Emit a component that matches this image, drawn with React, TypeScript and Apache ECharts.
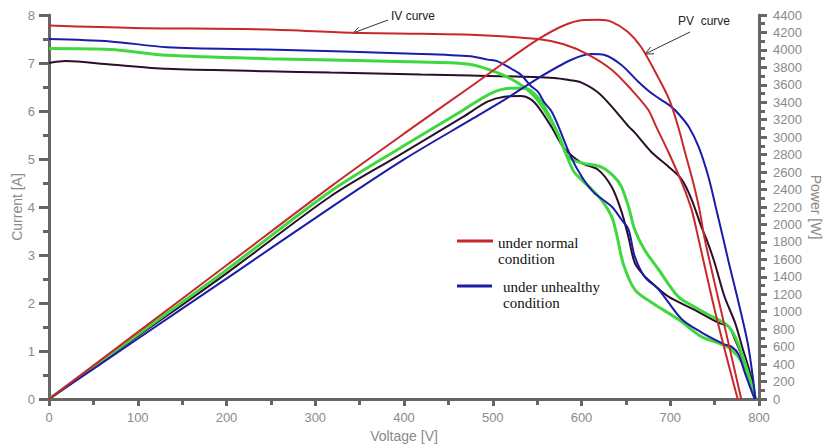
import React, { useEffect, useRef } from "react";
import * as echarts from "echarts";

// [Voltage V, Current A]
const redIV = [[0,7.78],[95,7.73],[246,7.70],[343,7.63],[419,7.61],[475,7.59],[551,7.50],[580,7.39],[607,7.18],[634,6.86],[656,6.45],[675,6.03],[684,5.68],[698,5.14],[713,4.51],[724,3.95],[732,3.32],[752,1.71],[776,0]];
const blueIV = [[0,7.50],[69,7.45],[133,7.33],[246,7.28],[419,7.19],[475,7.14],[494,7.07],[505,7.04],[521,6.88],[532,6.75],[543,6.52],[551,6.40],[558,6.18],[566,6.0],[574,5.68],[588,5.05],[600,4.64],[614,4.30],[634,4.01],[645,3.74],[653,3.53],[660,2.97],[671,2.55],[687,2.28],[713,1.66],[735,1.39],[761,1.14],[769,1.09],[777,0.93],[784,0.55],[795,0]];
const greenIV = [[0,7.30],[69,7.28],[133,7.16],[246,7.09],[419,7.02],[475,6.97],[505,6.80],[528,6.59],[543,6.38],[558,6.03],[573,5.55],[585,4.99],[592,4.72],[608,4.43],[622,4.16],[634,3.80],[640,3.40],[647,2.82],[660,2.28],[679,2.01],[709,1.66],[735,1.30],[758,1.14],[769,1.03],[781,0.76],[792,0.26],[796,0]];
const darkIV = [[0,7.00],[19,7.04],[69,6.97],[133,6.88],[246,6.83],[317,6.80],[419,6.76],[475,6.74],[569,6.69],[588,6.64],[600,6.59],[619,6.38],[637,6.03],[653,5.68],[660,5.55],[679,5.14],[698,4.84],[713,4.57],[724,4.16],[735,3.59],[741,3.32],[750,2.84],[761,2.14],[773,1.59],[781,1.09],[792,0.41],[796,0]];

// [Voltage V, Power W]
const redPV = [[0,0],[100,766],[200,1532],[317,2431],[400,3040],[475,3578],[517,3884],[551,4121],[580,4280],[603,4342],[619,4345],[634,4322],[652,4208],[667,4036],[686,3693],[699,3427],[709,3117],[718,2775],[726,2476],[733,2167],[739,1825],[758,978],[780,0]];
const bluePV = [[0,0],[100,690],[200,1380],[317,2190],[400,2745],[475,3198],[513,3427],[551,3675],[588,3884],[611,3953],[626,3941],[645,3827],[664,3636],[679,3503],[693,3407],[701,3350],[710,3260],[721,3117],[732,2889],[743,2546],[752,2168],[760,1825],[766,1561],[777,1104],[788,601],[796,0]];
const greenPV = [[0,0],[100,740],[200,1480],[317,2377],[392,2854],[467,3312],[498,3503],[521,3560],[535,3560],[546,3506],[558,3350],[573,3048],[585,2774],[600,2705],[622,2660],[637,2546],[645,2431],[653,2202],[660,1939],[671,1710],[687,1481],[709,1173],[727,1058],[747,944],[758,887],[766,829],[773,715],[784,418],[796,0]];
const darkPV = [[0,0],[100,720],[200,1440],[317,2320],[392,2778],[467,3235],[494,3407],[513,3464],[532,3472],[543,3434],[551,3350],[566,3121],[580,2880],[600,2705],[619,2625],[634,2431],[645,2150],[653,1850],[660,1560],[670,1420],[679,1333],[698,1173],[727,1024],[754,875],[766,829],[773,681],[781,486],[792,189],[796,0]];

const xTicks = { min: 0, max: 800, interval: 100 };
const iTicks = { min: 0, max: 8, interval: 1 };
const pTicks = { min: 0, max: 4400, interval: 200 };

const RED = "#c8282c";
const BLUE = "#1c1ca8";
const GREEN = "#3fd83f";
const DARK = "#2b0e2b";

const axisGray = "#666666";
const labelGray = "#8a8a8a";
const sans = "Arial, 'Liberation Sans', sans-serif";
const serif = "'Liberation Serif', 'Times New Roman', serif";

function line(name: string, data: number[][], color: string, yAxisIndex: number, width = 2) {
  return {
    name,
    type: "line",
    data,
    yAxisIndex,
    showSymbol: false,
    symbol: "none",
    smooth: 0.3,
    lineStyle: { color, width },
    itemStyle: { color },
    z: 3,
  };
}

export default function App() {
  const ref = useRef<HTMLDivElement>(null);
  useEffect(() => {
    if (!ref.current) return;
    const chart = echarts.init(ref.current, null, { renderer: "svg" });
    const tickStyle = { color: axisGray, width: 3 };
    chart.setOption({
      animation: false,
      backgroundColor: "#ffffff",
      grid: { left: 49, right: 66, top: 15, bottom: 46, containLabel: false, outerBoundsMode: "none" },
      xAxis: {
        type: "value",
        ...xTicks,
        name: "Voltage [V]",
        nameLocation: "middle",
        nameGap: 30,
        nameMoveOverlap: false,
        nameTextStyle: { color: labelGray, fontSize: 14, fontFamily: sans },
        axisLine: { show: true, lineStyle: tickStyle },
        axisTick: { show: true, length: 7, lineStyle: tickStyle },
        minorTick: { show: true, splitNumber: 2, length: 6, lineStyle: tickStyle },
        splitLine: { show: false },
        axisLabel: { color: labelGray, fontSize: 13, margin: 12, fontFamily: sans },
      },
      yAxis: [
        {
          type: "value",
          position: "left",
          ...iTicks,
          name: "Current [A]",
          nameLocation: "middle",
          nameRotate: 90,
          nameGap: 25,
          nameMoveOverlap: false,
          nameTextStyle: { color: labelGray, fontSize: 14, fontFamily: sans },
          axisLine: { show: true, lineStyle: tickStyle },
          axisTick: { show: true, length: 10, lineStyle: tickStyle },
          minorTick: { show: true, splitNumber: 2, length: 6, lineStyle: tickStyle },
          splitLine: { show: false },
          axisLabel: { color: labelGray, fontSize: 13, margin: 14, fontFamily: sans },
        },
        {
          type: "value",
          position: "right",
          ...pTicks,
          name: "Power [W]",
          nameLocation: "middle",
          nameRotate: -90,
          nameGap: 50,
          nameMoveOverlap: false,
          nameTextStyle: { color: labelGray, fontSize: 14, fontFamily: sans },
          axisLine: { show: true, lineStyle: tickStyle },
          axisTick: { show: true, length: 8, lineStyle: tickStyle },
          minorTick: { show: true, splitNumber: 2, length: 6, lineStyle: tickStyle },
          splitLine: { show: false },
          axisLabel: { color: labelGray, fontSize: 13, margin: 14, fontFamily: sans, formatter: (v: number) => String(v) },
        },
      ],
      series: [
        line("Dark IV", darkIV, DARK, 0),
        line("Dark PV", darkPV, DARK, 1),
        line("Green IV", greenIV, GREEN, 0, 3),
        line("Green PV", greenPV, GREEN, 1, 3),
        line("Blue IV", blueIV, BLUE, 0),
        line("Blue PV", bluePV, BLUE, 1),
        line("under normal condition", redIV, RED, 0),
        line("Red PV", redPV, RED, 1),
      ],
      graphic: [
        { type: "line", shape: { x1: 457, y1: 241, x2: 493, y2: 241 }, style: { stroke: RED, lineWidth: 3 } },
        { type: "text", x: 498, y: 235, style: { text: "under normal\ncondition", fill: "#111", font: `15px ${serif}`, lineHeight: 16 } },
        { type: "line", shape: { x1: 457, y1: 286, x2: 492, y2: 286 }, style: { stroke: BLUE, lineWidth: 3 } },
        { type: "text", x: 503, y: 279, style: { text: "under unhealthy\ncondition", fill: "#111", font: `15px ${serif}`, lineHeight: 16 } },
        { type: "text", x: 391, y: 10, style: { text: "IV curve", fill: "#222", font: `12px ${sans}` } },
        { type: "polyline", shape: { points: [[388, 20], [353, 33]] }, style: { stroke: "#333", lineWidth: 1, fill: null } },
        { type: "polyline", shape: { points: [[361, 33.6], [353, 33], [358.6, 27.3]] }, style: { stroke: "#333", lineWidth: 1, fill: null } },
        { type: "text", x: 678, y: 15, style: { text: "PV  curve", fill: "#222", font: `12px ${sans}` } },
        { type: "polyline", shape: { points: [[690, 32], [645, 54]] }, style: { stroke: "#333", lineWidth: 1, fill: null } },
        { type: "polyline", shape: { points: [[654, 53.8], [645, 54], [650.6, 47]] }, style: { stroke: "#333", lineWidth: 1, fill: null } },
      ],
    });
    return () => chart.dispose();
  }, []);
  return (
    <div
      ref={ref}
      style={{ position: "fixed", left: 0, top: 0, width: 825, height: 445, background: "#fff" }}
    />
  );
}
